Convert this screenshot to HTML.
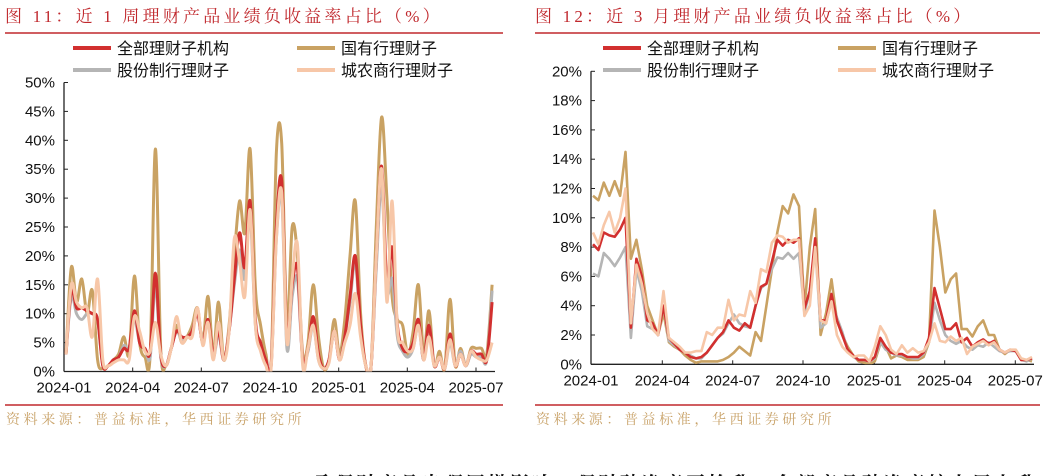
<!DOCTYPE html>
<html><head><meta charset="utf-8">
<style>
body{margin:0;width:1054px;height:476px;overflow:hidden;background:#fff;font-family:"Liberation Sans","Noto Sans CJK SC",sans-serif;}
svg{display:block}
</style></head>
<body>
<svg id="root" width="1054" height="476" viewBox="0 0 1054 476">
<text x="5" y="22" font-size="17" letter-spacing="3.2" fill="#c0282d" font-family="'Liberation Serif','Noto Serif CJK SC',serif">图 11：近 1 周理财产品业绩负收益率占比（%）</text>
<line x1="5" y1="33" x2="503" y2="33" stroke="#c0282d" stroke-width="1.5"/>
<text x="535" y="22" font-size="17" letter-spacing="3.2" fill="#c0282d" font-family="'Liberation Serif','Noto Serif CJK SC',serif">图 12：近 3 月理财产品业绩负收益率占比（%）</text>
<line x1="535" y1="33" x2="1040" y2="33" stroke="#c0282d" stroke-width="1.5"/>
<line x1="5" y1="405" x2="503" y2="405" stroke="#c0282d" stroke-width="1.5"/>
<line x1="535" y1="405" x2="1040" y2="405" stroke="#c0282d" stroke-width="1.5"/>
<text x="6" y="424" font-size="14" letter-spacing="3.6" fill="#c9a36a" font-family="'Liberation Serif','Noto Serif CJK SC',serif">资料来源：普益标准，华西证券研究所</text>
<text x="536" y="424" font-size="14" letter-spacing="3.6" fill="#c9a36a" font-family="'Liberation Serif','Noto Serif CJK SC',serif">资料来源：普益标准，华西证券研究所</text>
<text x="312" y="490" font-size="19" font-weight="bold" letter-spacing="3" fill="#111" font-family="'Liberation Serif','Noto Serif CJK SC',serif">叠理财产品出现回撤影响，理财破净率再抬升，全部产品破净率较上周上升</text>
<g id="left"></g>
<g id="right"></g>
</svg>
<script>
const tickLabels = ["2024-01","2024-04","2024-07","2024-10","2025-01","2025-04","2025-07"];
const seriesNames = ["全部理财子机构","国有行理财子","股份制行理财子","城农商行理财子"];
const leftYTicks = [0,5,10,15,20,25,30,35,40,45,50];
const rightYTicks = [0,2,4,6,8,10,12,14,16,18,20];

const leftGold = [3,18,12,16,10,14,2,0.5,1,2,3,6,3,16.5,5,2.5,3,38.5,4,1,4,8,5,6,8,11,5,13,3,12,2,8,20,29.5,24,38.5,14.5,8,3,1,38,39.5,8,25,20,3,5,15,6,0.5,2,9,3,9,20,29.5,10,1,1,25,44,30,13,9,8,3,7,15,3,10.5,1,3.5,0.5,12.5,1,4,1,4,4,4,3,15];
const leftRed = [3,14,11,11,10.5,10,9,1,1,2,2.5,4,4,10.5,5,4,3.5,17,3,1,4,7,6,6,7,10,5,9,3,7,2,7,16,24,18,29.5,9,5,2,1,25,33,6,15,18,2,4,9.5,3,0.5,2,7,2,6,13,20,8,1,1,20,35.5,15,21.5,8,4,3.5,5,9,2,8,1,2.5,0.5,6.5,1,3,1,3.5,3,3,2,12];
const leftGray = [3,13,10,9,10,10,9,1,1,2,2.5,4.5,4,9,5,4,2.5,15,2.5,1,4,7,5.5,6,7,10,5,8.5,2.5,6.5,2,7,15,21,16,27,8,4,2,1,23,30,4,13,16,2,3.5,8,2,0.5,2,7,2,6,12,19,7,1,1,18,32,14,16,6,3.5,2.5,4,8,2,8,1,2.5,0.5,5,1,3.5,1,3,2.5,2.5,2,14];
const leftPeach = [3,15,12,11,11,6,16,2,1,1.5,2,2,2,9.5,7,3.5,3.5,8.5,3,1,4,9.5,5,6,6,11,4.5,8.5,2,8.5,2,7,23,19,13,28,8,3.5,1,0.5,23,31,5,16,22,1,4,8,2,0.5,1.5,7,2,5,8,13.5,6,1,1,20,35,12,29.5,7.5,5,3.5,4,8,2,6,1,2.5,0.5,5.5,1,3,1,3.5,2.5,2,2,5];

const rightGold = [11.5,11.2,12.4,11.5,12.5,11.5,14.5,7.2,8.5,6.5,4,3,2,3.5,1.5,1.2,1,0.6,0.3,0.1,0.2,0.2,0.2,0.2,0.3,0.5,0.8,1.2,0.9,0.6,2.2,1.6,4,6.5,9,10.8,10.3,11.6,10.8,3.8,8,10.6,2,3.5,5.8,3,2,1.2,0.6,0.2,0.1,0,0.2,1.4,1.2,0.4,0.6,0.5,0.3,0.3,0.3,0.5,1.5,10.5,8,4.9,5.8,6.2,2.4,2.4,1.9,2.6,3,2,2,1,0.7,1,0.9,0.3,0.3,0.2];
const rightRed = [8.2,7.8,9,8.8,8.7,9.2,10,2.5,7.2,6,3,2.8,2,4,1.8,1.4,1,0.8,0.5,0.4,0.5,0.8,1.3,1.8,2.2,3,2.5,2.3,2.8,2.5,4,5.3,5.5,7,8.5,8.1,8.5,8.3,8.6,3.8,5,8.6,3,3,4.8,3,2,1,0.6,0.3,0.3,0.2,0.5,1.8,1.2,0.8,0.7,0.7,0.5,0.5,0.5,0.8,1.8,5.2,3.8,2.4,2.4,2.8,1.5,1.8,1.2,1.5,1.7,1.4,1.6,1,0.8,1,0.9,0.3,0.3,0.4];
const rightGray = [6.2,6,7.6,7.2,6.7,7.3,8,1.8,6.5,5,2.6,2.4,2,4,1.6,1.3,1,0.8,0.6,0.4,0.4,0.8,1.3,1.8,2.1,2.8,3.4,2.8,2.6,2.5,4,5.2,5.5,6.5,7.3,7.2,7.6,7.2,7.6,3.5,5,8,2.5,2.8,4.4,3.2,2.2,1,0.5,0.3,0.3,0.2,0.4,1.5,1,0.8,0.6,0.6,0.5,0.4,0.4,0.7,1.6,4.2,3,2,1.6,1.4,1.6,1.2,1,1.3,1.2,1.5,1.2,0.9,0.8,0.9,0.9,0.3,0.2,0.4];
const rightPeach = [9,8.2,9.5,10.4,9,10,12,2.8,6.8,5.5,3.5,2.4,2,5,1.8,1.5,1.2,0.8,0.8,0.9,0.9,2.2,2,2.5,2.5,4.4,3,3.4,3.3,5,4.2,6.5,6.3,8.3,8.8,8.7,8.3,8.5,8.5,3.3,4,8,3,2.8,4.3,2,1.2,0.8,0.5,0.6,0.6,0.2,1.2,2.6,2,1,0.7,1.3,0.8,1.1,0.8,0.9,1.5,2.8,1.6,1.5,1.9,1.6,1.8,0.7,1.2,1.4,1.6,1.3,1.5,1,0.8,1,1,0.4,0.3,0.5];

const NS='http://www.w3.org/2000/svg';
const COLORS={red:'#d2302f',gold:'#c9a263',gray:'#b5b5b5',peach:'#f7c7a8'};
function mk(parent,tag,attrs){const e=document.createElementNS(NS,tag);for(const k in attrs)e.setAttribute(k,attrs[k]);parent.appendChild(e);return e;}

function drawChart(g,cfg){
  const {x0,x1,y0,yTop,yMax,weekPx,tickX,yTicks,series,smooth,lw,pfx,legendX} = cfg;
  const xs = i => x0 + 2 + i*weekPx;
  const ys = v => y0 - v/yMax*(y0-yTop);
  const clipId = pfx+'clip';
  const defs=mk(g,'defs',{});
  const cp=mk(defs,'clipPath',{id:clipId});
  mk(cp,'rect',{x:x0,y:yTop-20,width:x1-x0+4,height:y0-yTop+20});
  const leg=[['red',seriesNames[0],legendX[0],48],['gold',seriesNames[1],legendX[1],48],['gray',seriesNames[2],legendX[0],70],['peach',seriesNames[3],legendX[1],70]];
  leg.forEach(([c,t,lx,ly])=>{
    const lg=mk(g,'g',{});
    
    
    mk(lg,'line',{x1:lx,y1:ly,x2:lx+38,y2:ly,stroke:COLORS[c],'stroke-width':4});
    const tt=mk(lg,'text',{x:lx+44,y:ly+6,'font-size':16,fill:'#111'});tt.textContent=t;
  });
  const ya=mk(g,'g',{});
  
  
  mk(ya,'line',{x1:x0,y1:ys(yTicks[yTicks.length-1]),x2:x0,y2:y0,stroke:'#222','stroke-width':1.3});
  yTicks.forEach(v=>{
    mk(ya,'line',{x1:x0,y1:ys(v),x2:x0+4,y2:ys(v),stroke:'#222','stroke-width':1});
    const t=mk(ya,'text',{x:x0-9,y:ys(v)+5,'font-size':15,'text-anchor':'end',fill:'#111'});t.textContent=v+'%';
  });
  const xa=mk(g,'g',{});
  
  
  mk(xa,'line',{x1:x0,y1:y0,x2:x1,y2:y0,stroke:'#222','stroke-width':1.3});
  tickLabels.forEach((lab,i)=>{
    const tx=tickX[i];
    mk(xa,'line',{x1:tx,y1:y0,x2:tx,y2:y0-4,stroke:'#222','stroke-width':1});
    const t=mk(xa,'text',{x:tx,y:y0+21,'font-size':15,'text-anchor':'middle',fill:'#111'});t.textContent=lab;
  });
  const lines=mk(g,'g',{'clip-path':'url(#'+clipId+')'});
  series.forEach(([c,arr,name])=>{
    const pts=arr.map((v,i)=>[xs(i),ys(v)]);
    let d='M'+pts[0][0].toFixed(1)+','+pts[0][1].toFixed(1);
    for(let i=0;i<pts.length-1;i++){
      if(smooth){
        const p0=pts[Math.max(0,i-1)],p1=pts[i],p2=pts[i+1],p3=pts[Math.min(pts.length-1,i+2)];
        const c1=[p1[0]+(p2[0]-p0[0])/6,p1[1]+(p2[1]-p0[1])/6],c2=[p2[0]-(p3[0]-p1[0])/6,p2[1]-(p3[1]-p1[1])/6];
        d+=' C'+c1.map(n=>n.toFixed(1))+' '+c2.map(n=>n.toFixed(1))+' '+p2.map(n=>n.toFixed(1));
      } else d+=' L'+pts[i+1][0].toFixed(1)+','+pts[i+1][1].toFixed(1);
    }
    const p=mk(lines,'path',{d:d,fill:'none',stroke:COLORS[c],'stroke-width':lw,'stroke-linejoin':'round'});
    
    
  });
}
drawChart(document.getElementById('left'),{
  x0:64,x1:495,y0:371.5,yTop:82.5,yMax:50,weekPx:5.26,
  tickX:[64,132.7,201.3,270,338.7,407.3,476],yTicks:leftYTicks,smooth:true,lw:3,pfx:'left-',legendX:[73,297],
  series:[['gold',leftGold,'state-owned'],['gray',leftGray,'joint-stock'],['red',leftRed,'all-institutions'],['peach',leftPeach,'city-rural']]
});
drawChart(document.getElementById('right'),{
  x0:591,x1:1034,y0:364.3,yTop:71.3,yMax:20,weekPx:5.42,
  tickX:[591,662.3,732.7,803,874.3,944.7,1015.3],yTicks:rightYTicks,smooth:false,lw:2.6,pfx:'right-',legendX:[603,838],
  series:[['gold',rightGold,'state-owned'],['gray',rightGray,'joint-stock'],['red',rightRed,'all-institutions'],['peach',rightPeach,'city-rural']]
});
</script>
</body></html>
